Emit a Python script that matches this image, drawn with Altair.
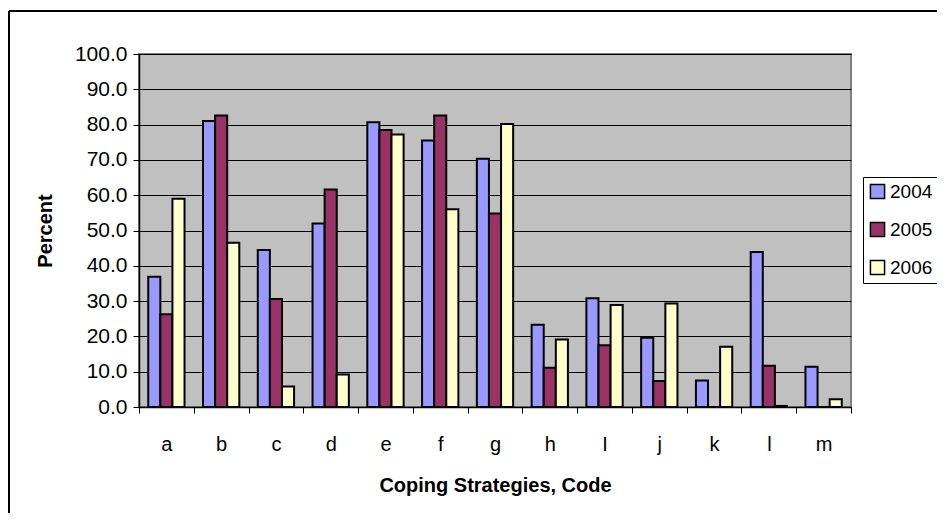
import altair as alt
import pandas as pd

codes = ["a", "b", "c", "d", "e", "f", "g", "h", "I", "j", "k", "l", "m"]
years = ["2004", "2005", "2006"]
v2004 = [36.9, 81.0, 44.5, 52.0, 80.7, 75.5, 70.3, 23.3, 30.8, 19.6, 7.5, 43.9, 11.4]
v2005 = [26.3, 82.6, 30.6, 61.6, 78.5, 82.6, 54.8, 11.1, 17.5, 7.4, 0.0, 11.7, 0.0]
v2006 = [59.0, 46.5, 5.8, 9.2, 77.2, 56.0, 80.2, 19.1, 28.9, 29.3, 17.1, 0.3, 2.2]
colors = ["#9999FF", "#993366", "#FFFFCC"]
y_ticks = [0, 10, 20, 30, 40, 50, 60, 70, 80, 90, 100]

rows = []
for yr, vals in zip(years, [v2004, v2005, v2006]):
    for c, v in zip(codes, vals):
        rows.append({"code": c, "year": yr, "pct": v})
df = pd.DataFrame(rows)

W, H = 712, 353
FONT = "Liberation Sans"

bars = alt.Chart(df).mark_bar(stroke="black", strokeWidth=2).encode(
    x=alt.X("code:N", sort=codes,
            scale=alt.Scale(paddingInner=0, paddingOuter=0),
            axis=alt.Axis(title="Coping Strategies, Code", labelAngle=0,
                          tickBand="extent", tickSize=6, tickColor="black",
                          domainColor="black", domainWidth=1.5,
                          labelFontSize=20, labelColor="black",
                          labelBaseline="middle", labelPadding=31,
                          titleFontSize=20, titleFontWeight="bold",
                          titleColor="black", titleY=78, titleBaseline="middle")),
    xOffset=alt.XOffset("year:N", sort=years,
                        scale=alt.Scale(paddingInner=0, paddingOuter=0.763)),
    y=alt.Y("pct:Q", scale=alt.Scale(domain=[0, 100], nice=False),
            axis=alt.Axis(title="Percent", values=y_ticks, format=".1f",
                          grid=True, gridColor="black", gridWidth=1,
                          tickSize=6, tickColor="black",
                          domainColor="black", domainWidth=1.5,
                          labelFontSize=21, labelColor="black", labelPadding=6,
                          titleFontSize=20, titleFontWeight="bold",
                          titleColor="black", titleX=-94, titleY=H / 2,
                          titleAngle=-90, titleAlign="center",
                          titleBaseline="middle")),
    color=alt.Color("year:N", sort=years,
                    scale=alt.Scale(domain=years, range=colors),
                    legend=alt.Legend(title=None, orient="none",
                                      legendX=724, legendY=123,
                                      strokeColor="black", fillColor="white",
                                      padding=5, symbolType="square",
                                      symbolSize=200, symbolStrokeColor="black",
                                      symbolStrokeWidth=1.5, symbolOpacity=1,
                                      labelFontSize=19, labelColor="black",
                                      rowPadding=17, labelOffset=3)),
)

# outer chart-area border (top and left edges visible in the reference)
border_top = alt.Chart(df).mark_rule(color="black", strokeWidth=1.5).encode(
    x=alt.value(-130), x2=alt.value(W + 200), y=alt.value(-43))
border_left = alt.Chart(df).mark_rule(color="black", strokeWidth=1.5).encode(
    x=alt.value(-130), y=alt.value(-43), y2=alt.value(H + 200))

chart = alt.layer(bars, border_top, border_left).properties(
    width=W, height=H,
    autosize=alt.AutoSizeParams(type="none"),
    padding={"left": 131, "top": 46, "right": 86, "bottom": 106},
).configure(font=FONT).configure_view(
    fill="#C0C0C0", stroke="#808080", strokeWidth=2
)

chart.save("out.html", embed_options={"renderer": "svg", "actions": False})
